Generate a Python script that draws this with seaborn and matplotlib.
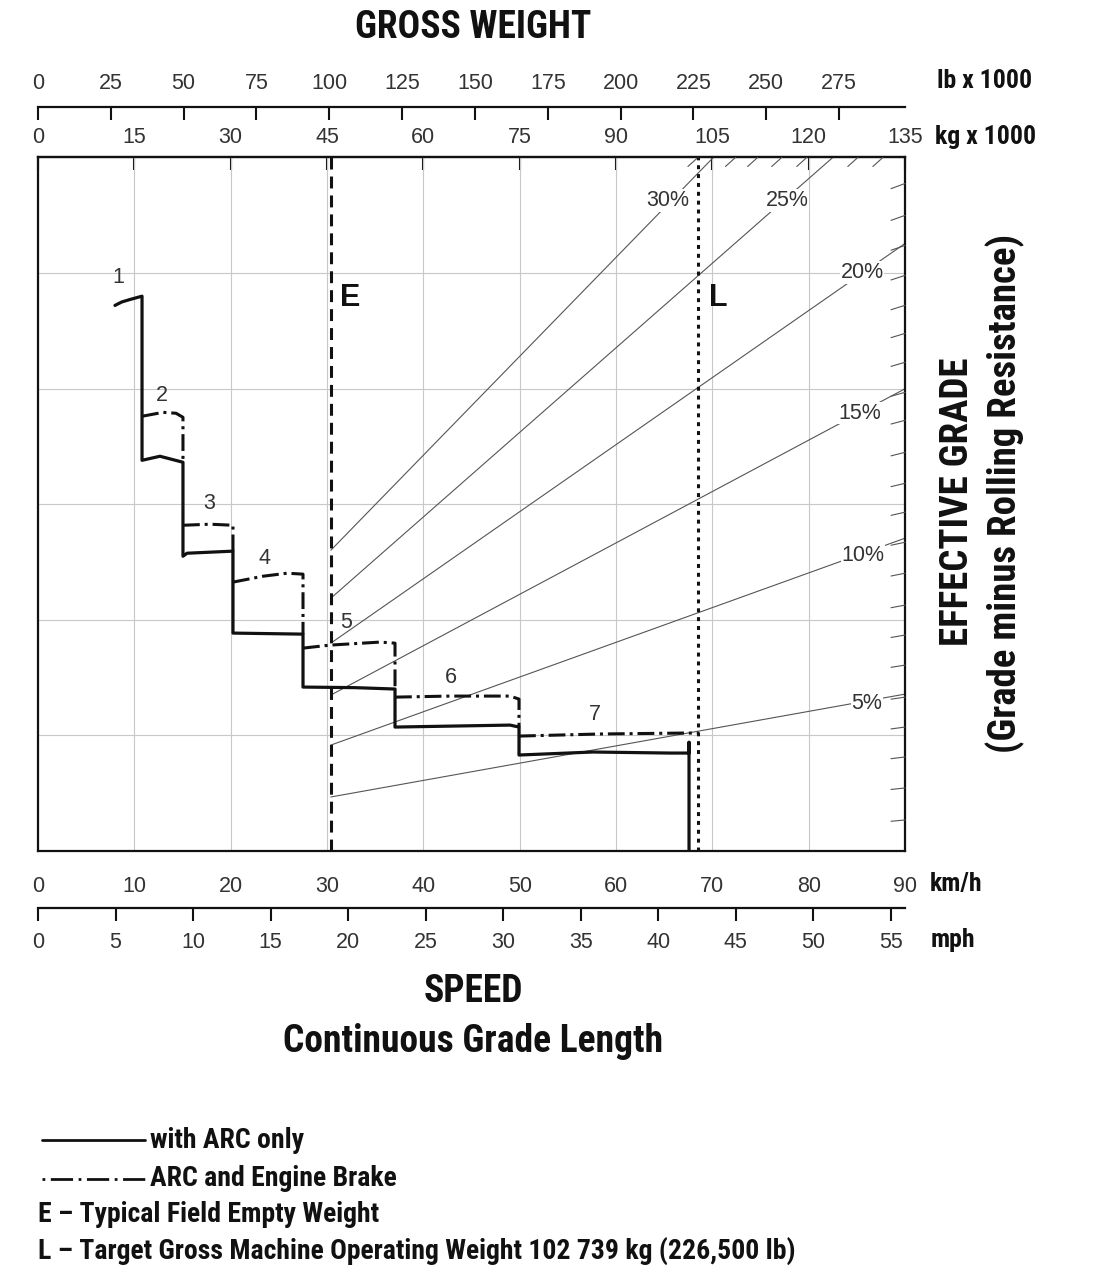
import os
import numpy as np
import pandas as pd
import matplotlib
matplotlib.use('Agg')
import matplotlib.pyplot as plt
from matplotlib import font_manager as fm
from matplotlib.lines import Line2D
import seaborn as sns

# axis scales
kmh_ticks = [0, 10, 20, 30, 40, 50, 60, 70, 80, 90]
mph_ticks = [0, 5, 10, 15, 20, 25, 30, 35, 40, 45, 50, 55]
kg_ticks = [0, 15, 30, 45, 60, 75, 90, 105, 120, 135]
lb_ticks = [0, 25, 50, 75, 100, 125, 150, 175, 200, 225, 250, 275]

# with ARC only (solid) - speed km/h, effective grade (chart rows 0..6)
arc_kmh = [7.99, 8.7, 9.5, 10.8, 10.8, 12.66, 15.05, 15.05, 15.47, 20.24, 20.24,
           27.51, 27.51, 32.9, 37.06, 37.06, 49.0, 49.93, 49.93, 57.6, 65.6, 67.58,
           67.58, 67.58]
arc_grade = [4.72, 4.75, 4.77, 4.80, 3.38, 3.415, 3.363, 2.55, 2.576, 2.594, 1.885,
             1.876, 1.418, 1.413, 1.401, 1.072, 1.089, 1.072, 0.83, 0.856, 0.847, 0.847,
             0.94, 0.0]

# ARC and engine brake (dash-dot), one piece per gear
brake_gear = [2] * 5 + [3] * 4 + [4] * 5 + [5] * 5 + [6] * 5 + [7] * 4
brake_kmh = [10.8, 12.98, 14.33, 15.05, 15.05,
             15.05, 17.86, 20.24, 20.24,
             20.24, 23.36, 25.85, 27.51, 27.51,
             27.51, 30.31, 35.5, 37.06, 37.06,
             37.06, 42.77, 49.0, 49.93, 49.93,
             49.93, 58.34, 66.96, 68.6]
brake_grade = [3.761, 3.795, 3.787, 3.752, 3.38,
               2.818, 2.827, 2.818, 2.594,
               2.326, 2.377, 2.403, 2.395, 1.876,
               1.755, 1.781, 1.807, 1.798, 1.401,
               1.331, 1.34, 1.34, 1.314, 1.072,
               0.994, 1.012, 1.02, 1.02]

gear_names = ['1', '2', '3', '4', '5', '6', '7']
gear_kmh = [8.3, 12.87, 17.75, 23.56, 31.97, 42.87, 57.82]
gear_grade = [4.962, 3.942, 3.009, 2.533, 1.98, 1.504, 1.184]

# weight lines (kg x 1000)
empty_kg = 45.6
target_kg = 102.739

# grade lines, starting on the E line
grade_names = ['30%', '25%', '20%', '15%', '10%', '5%']
grade_start = [2.602, 2.187, 1.798, 1.349, 0.916, 0.467]
grade_end_kmh = [70.1, 82.5, 90, 90, 90, 90]
grade_end_val = [6.0, 6.0, 5.256, 3.999, 2.706, 1.357]
grade_lab_kmh = [65.4, 77.75, 85.54, 85.33, 85.64, 86.06]
grade_lab_val = [5.628, 5.628, 5.006, 3.787, 2.559, 1.28]

# 1 % marks along the right and top border
right_marks = [5.775, 5.499, 5.239, 4.98, 4.721, 4.478, 4.228, 3.968, 3.726, 3.449,
               3.181, 2.931, 2.671, 2.403, 2.127, 1.868, 1.608, 1.331, 1.072, 0.813,
               0.545, 0.268]
top_marks = [68.5, 72.4, 74.7, 77.2, 79.8, 85.1, 87.7]

KG2X = 90 / 135.0
LB2KG = 0.45359237
MPH2KMH = 1.609344


def narrow_bold_file():
    # look for an installed condensed bold face (real font, real text)
    prefs = ['LiberationSansNarrow-Bold.', 'RobotoCondensed-Bold.', 'NotoSans-CondensedBold.',
             'OpenSans-CondBold.', 'OpenSans_Condensed-Bold.', 'OpenSansCondensed-Bold.',
             'DejaVuSansCondensed-Bold.']
    files = [f.fname for f in fm.fontManager.ttflist]
    for p in prefs:
        for fn in files:
            if os.path.basename(fn).startswith(p):
                return fn
    for fn in files:
        b = os.path.basename(fn)
        if 'Condensed' in b and 'Bold' in b and 'Extra' not in b and 'Semi' not in b \
                and 'Italic' not in b:
            return fn
    return None


sns.set_style('white')
plt.rcParams['font.family'] = ['Liberation Sans', 'DejaVu Sans']
nb_file = narrow_bold_file()


def nb(size):
    if nb_file:
        return fm.FontProperties(fname=nb_file, size=size)
    return fm.FontProperties(family=['Liberation Sans', 'DejaVu Sans'], weight='bold',
                             size=size * 0.85)


INK = '#111111'
GREY = '#555555'
TXT = '#333333'

fig = plt.figure(figsize=(11.01, 12.68), dpi=100)
ax = fig.add_axes([0.0345, 0.3289, 0.7875, 0.5469])
ax.set_xlim(0, 90)
ax.set_ylim(0, 6)
ax.set_axisbelow(True)
ax.set_xticks(kmh_ticks)
ax.set_yticks(range(7))
ax.grid(True, color='#c8c8c8', lw=0.8)
ax.tick_params(axis='y', length=0, labelleft=False)
ax.tick_params(axis='x', direction='out', length=9.4, width=1.5, pad=8.5,
               labelsize=15.5, labelcolor=TXT, color=INK)
for s in ax.spines.values():
    s.set_linewidth(1.6)
    s.set_color(INK)

# grade lines
for i, name in enumerate(grade_names):
    ax.plot([empty_kg * KG2X, grade_end_kmh[i]], [grade_start[i], grade_end_val[i]],
            color=GREY, lw=0.8, zorder=2)
    ax.text(grade_lab_kmh[i], grade_lab_val[i], name, fontsize=15.5, color=TXT,
            ha='center', va='center', zorder=3,
            bbox=dict(fc='white', ec='none', pad=0.5))

for y in right_marks:
    s = 0.08 + y * 0.05
    ax.annotate('', xy=(90, y), xytext=(-14, -14 * s), textcoords='offset pixels',
                annotation_clip=False,
                arrowprops=dict(arrowstyle='-', lw=0.8, color=GREY, shrinkA=0, shrinkB=0))
for x in top_marks:
    ax.annotate('', xy=(x, 6), xytext=(-10, -9), textcoords='offset pixels',
                annotation_clip=False,
                arrowprops=dict(arrowstyle='-', lw=0.8, color=GREY, shrinkA=0, shrinkB=0))

# E and L weight lines
ax.axvline(empty_kg * KG2X, color=INK, lw=2.2, ls=(0, (3.9, 2.3)), zorder=4)
ax.axvline(target_kg * KG2X, color=INK, lw=2.2, ls=(0, (1.3, 1.6)), zorder=4)
ax.text(empty_kg * KG2X + 2.0, 4.78, 'E', fontsize=22, fontweight='bold', color=INK,
        ha='center', va='center')
ax.text(target_kg * KG2X + 2.1, 4.78, 'L', fontsize=22, fontweight='bold', color=INK,
        ha='center', va='center')

# retarder curves
sns.lineplot(x=arc_kmh, y=arc_grade, sort=False, estimator=None, color=INK, lw=2.3,
             ax=ax, zorder=5)
brake = pd.DataFrame({'gear': brake_gear, 'kmh': brake_kmh, 'grade': brake_grade})
sns.lineplot(data=brake, x='kmh', y='grade', units='gear', estimator=None, sort=False,
             color=INK, lw=2.2, ls=(0, (5.5, 1.6, 1, 1.6)), ax=ax, zorder=5)
for i, g in enumerate(gear_names):
    ax.text(gear_kmh[i], gear_grade[i], g, fontsize=15.5, color=TXT,
            ha='center', va='center', zorder=6)
ax.set_xlabel('')
ax.set_ylabel('')

# secondary scales
sec_kg = ax.secondary_xaxis(1.0, functions=(lambda x: x / KG2X, lambda k: k * KG2X))
sec_kg.set_xticks(kg_ticks)
sec_kg.tick_params(direction='in', length=9.4, width=1.5, pad=7, labelsize=15.5,
                   labelcolor=TXT, color=INK)
sec_kg.spines['top'].set_linewidth(1.6)

sec_lb = ax.secondary_xaxis(1.0735, functions=(lambda x: x / KG2X / LB2KG,
                                               lambda lb: lb * LB2KG * KG2X))
sec_lb.set_xticks(lb_ticks)
sec_lb.tick_params(direction='in', length=9.4, width=1.5, pad=9, labelsize=15.5,
                   labelcolor=TXT, color=INK)
sec_lb.spines['top'].set_linewidth(1.6)
sec_lb.spines['top'].set_color(INK)

sec_mph = ax.secondary_xaxis(-0.0821, functions=(lambda x: x / MPH2KMH,
                                                  lambda m: m * MPH2KMH))
sec_mph.set_xticks(mph_ticks)
sec_mph.tick_params(direction='out', length=9.4, width=1.5, pad=8, labelsize=15.5,
                    labelcolor=TXT, color=INK)
sec_mph.spines['bottom'].set_linewidth(1.6)
sec_mph.spines['bottom'].set_color(INK)

# unit labels
unit_kw = dict(transform=ax.transAxes, fontproperties=nb(18.5), color=INK,
               ha='left', va='center')
ax.text(1.037, 1.111, 'lb x 1000', **unit_kw)
ax.text(1.035, 1.029, 'kg x 1000', **unit_kw)
ax.text(1.029, -0.0476, 'km/h', **unit_kw)
ax.text(1.029, -0.128, 'mph', **unit_kw)

title_kw = dict(fontproperties=nb(27), color=INK, ha='center', va='center')
fig.text(0.4296, 0.978, 'GROSS WEIGHT', **title_kw)
fig.text(0.4296, 0.2182, 'SPEED', **title_kw)
fig.text(0.4296, 0.1790, 'Continuous Grade Length', **title_kw)
side_kw = dict(fontproperties=nb(28), color=INK, ha='center', va='center')
fig.text(0.870, 0.604, 'EFFECTIVE GRADE', rotation=90, **side_kw)
fig.text(0.913, 0.611, '(Grade minus Rolling Resistance)', rotation=90, **side_kw)

# key
key_kw = dict(fontproperties=nb(20), color=INK, ha='left', va='center')
fig.add_artist(Line2D([0.038, 0.132], [0.1009, 0.1009], transform=fig.transFigure,
                      color=INK, lw=2.0))
fig.add_artist(Line2D([0.038, 0.132], [0.0702, 0.0702], transform=fig.transFigure,
                      color=INK, lw=2.0, ls=(0, (1, 2, 8, 2))))
fig.text(0.1362, 0.1009, 'with ARC only', **key_kw)
fig.text(0.1362, 0.0702, 'ARC and Engine Brake', **key_kw)
fig.text(0.0345, 0.0418, 'E \u2013 Typical Field Empty Weight', **key_kw)
fig.text(0.0345, 0.0134,
         'L \u2013 Target Gross Machine Operating Weight 102 739 kg (226,500 lb)', **key_kw)

fig.savefig('out.png', dpi=100, facecolor='white')
